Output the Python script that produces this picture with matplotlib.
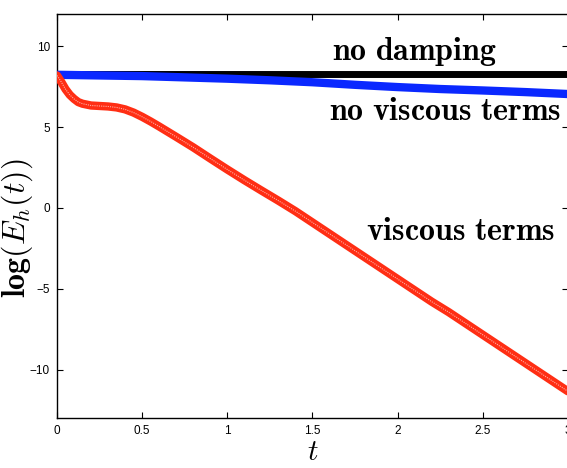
import matplotlib
matplotlib.use("Agg")
import matplotlib.pyplot as plt

plt.rcParams["mathtext.fontset"] = "cm"

# time samples
t_red = [0.0, 0.025, 0.05, 0.075, 0.1, 0.125, 0.15, 0.2, 0.25, 0.3, 0.35, 0.4,
         0.45, 0.5, 0.55, 0.6, 0.7, 0.8, 0.9, 1.0, 1.1, 1.2, 1.3, 1.4, 1.5,
         1.6, 1.7, 1.8, 1.9, 2.0, 2.1, 2.2, 2.3, 2.4, 2.5, 2.6, 2.7, 2.8,
         2.9, 3.0]
viscous = [8.2, 7.8, 7.35, 7.0, 6.75, 6.55, 6.45, 6.34, 6.31, 6.28, 6.22, 6.1,
           5.9, 5.64, 5.35, 5.04, 4.4, 3.75, 3.06, 2.38, 1.72, 1.08, 0.45,
           -0.2, -0.9, -1.6, -2.3, -3.0, -3.7, -4.4, -5.1, -5.8, -6.45,
           -7.15, -7.85, -8.55, -9.25, -9.95, -10.65, -11.35]

t_blue = [0.0, 0.25, 0.5, 0.75, 1.0, 1.25, 1.5, 1.75, 2.0, 2.25, 2.5, 2.75, 3.0]
no_viscous = [8.24, 8.2, 8.16, 8.08, 8.0, 7.9, 7.78, 7.62, 7.48, 7.36, 7.27, 7.17, 7.05]

t_black = [0.0, 3.0]
no_damping = [8.3, 8.3]

fig = plt.figure(figsize=(5.67, 4.68), dpi=100)
ax = fig.add_axes([0.1005, 0.1068, 0.9012, 0.8632])

ax.plot(t_black, no_damping, color="black", lw=5.0, solid_capstyle="butt", zorder=2)
ax.plot(t_blue, no_viscous, color="#0a28ff", lw=6.0, solid_capstyle="butt", zorder=3)
ax.plot(t_red, viscous, color="#ff2e14", lw=6.0, solid_capstyle="round", zorder=4)
ax.plot(t_red, viscous, color="white", lw=0.8, alpha=0.6, ls=(0, (1, 1)), zorder=5)

ax.set_xlim(0, 3)
ax.set_ylim(-13, 12)
ax.set_xticks([0, 0.5, 1, 1.5, 2, 2.5, 3])
ax.set_xticklabels(["0", "0.5", "1", "1.5", "2", "2.5", "3"])
ax.set_yticks([-10, -5, 0, 5, 10])
ax.tick_params(direction="in", length=4, width=0.8, top=True, right=True,
               labelsize=8.5, pad=5)
for lab in ax.get_xticklabels() + ax.get_yticklabels():
    lab.set_family("Liberation Sans")
for s in ax.spines.values():
    s.set_linewidth(1.0)

ax.set_xlabel(r"$t$", fontsize=21, labelpad=1)
ax.set_ylabel(r"$\mathbf{log}(E_h(t))$", fontsize=23)
ax.yaxis.set_label_coords(-0.044, 0.47)

ax.text(2.10, 9.16, r"$\mathbf{no\ damping}$", fontsize=23, ha="center", va="baseline")
ax.text(2.28, 5.45, r"$\mathbf{no\ viscous\ terms}$", fontsize=23, ha="center", va="baseline")
ax.text(2.37, -1.98, r"$\mathbf{viscous\ terms}$", fontsize=23, ha="center", va="baseline")

fig.savefig("out.png", dpi=100)
